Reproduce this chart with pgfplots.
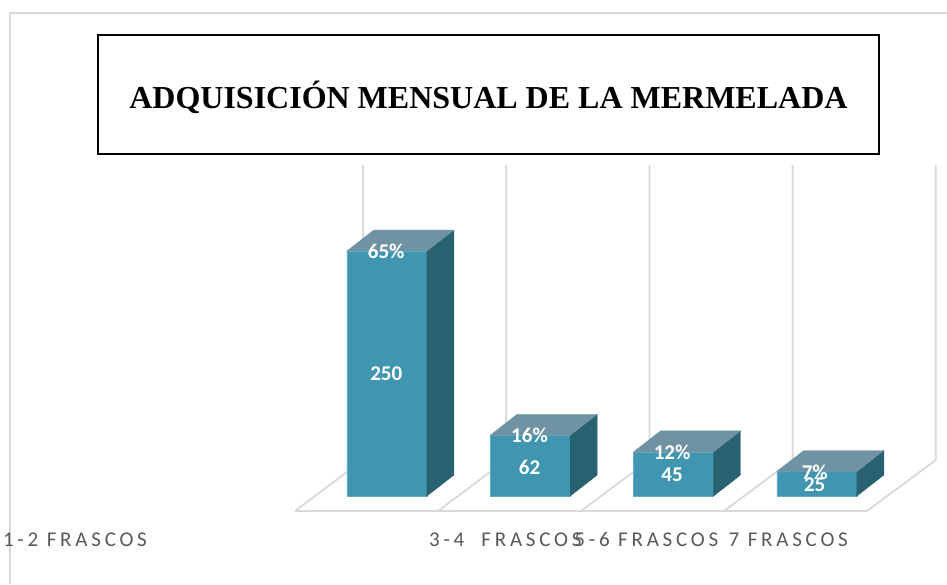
\documentclass[border=0pt]{standalone}
\usepackage{fontspec}
\usepackage{pgfplots}
\pgfplotsset{compat=1.18}
\setmainfont{Liberation Serif}
\newfontfamily\labelfont{Carlito}
\newfontfamily\tickfont[LetterSpace=18]{Carlito}
\definecolor{barFront}{HTML}{4096B1}
\definecolor{barSide}{HTML}{28616F}
\definecolor{barTop}{HTML}{6F93A2}
\definecolor{gridGray}{HTML}{D9D9D9}
\definecolor{tickGray}{HTML}{595959}

\begin{document}
\begin{tikzpicture}[x=1pt,y=1pt]
    \useasboundingbox (0,0) rectangle (947,584);
    % outer frame, only left and top show in the source
    \draw[gridGray, line width=1.8pt] (10,0) -- (10,571) -- (947,571);
    % back wall lines and floor
    \foreach \i in {0,...,4} {
        \pgfmathsetmacro{\xa}{295+143*\i}
        \pgfmathsetmacro{\xb}{363+143.2*\i}
        \draw[gridGray, line width=1.8pt] (\xa,73) -- (\xb,124) -- (\xb,419);
    }
    \draw[gridGray, line width=2pt] (295,73) -- (867,73);
    \begin{axis}[
        at={(0,0)}, anchor=south west,
        scale only axis,
        width=947pt, height=584pt,
        xmin=-2.7, xmax=3.908,
        ymin=-89.8, ymax=506.1,
        axis line style={draw=none},
        major tick length=0pt,
        ytick=\empty,
        xtick={-2.177,0.826,1.81,2.80},
        xticklabels={1-2 FRASCOS, 3-4\ \ FRASCOS, 5-6 FRASCOS, 7 FRASCOS},
        xticklabel style={anchor=center, yshift=45pt, text=tickGray,
            text height=14pt, text depth=0pt,
            font=\tickfont\fontsize{21}{24}\selectfont},
        title={ADQUISICIÓN MENSUAL DE LA MERMELADA},
        title style={at={(0.5158,0.8277)}, anchor=center, draw=black, fill=white,
            line width=1.5pt, minimum width=781pt, minimum height=119pt,
            text height=30pt, text depth=3pt,
            font=\bfseries\fontsize{32}{38}\selectfont},
        clip=false
    ]
        % front faces
        \addplot[ybar, bar width=0.558, bar shift=0pt, fill=barFront, draw=barFront!80!white, line width=0.6pt]
            coordinates {(0,250) (1,62) (2,45) (3,25)};
        % side faces
        \addplot[fill=barSide, draw=barSide] coordinates {(0.279,0) (0.279,250) (0.467,271.4) (0.467,21.4)} -- cycle;
        \addplot[fill=barSide, draw=barSide] coordinates {(1.279,0) (1.279,62) (1.467,83.4) (1.467,21.4)} -- cycle;
        \addplot[fill=barSide, draw=barSide] coordinates {(2.279,0) (2.279,45) (2.467,66.4) (2.467,21.4)} -- cycle;
        \addplot[fill=barSide, draw=barSide] coordinates {(3.279,0) (3.279,25) (3.467,46.4) (3.467,21.4)} -- cycle;
        % top faces
        \addplot[fill=barTop, draw=barTop] coordinates {(-0.279,250) (0.279,250) (0.467,271.4) (-0.091,271.4)} -- cycle;
        \addplot[fill=barTop, draw=barTop] coordinates {(0.721,62) (1.279,62) (1.467,83.4) (0.909,83.4)} -- cycle;
        \addplot[fill=barTop, draw=barTop] coordinates {(1.721,45) (2.279,45) (2.467,66.4) (1.909,66.4)} -- cycle;
        \addplot[fill=barTop, draw=barTop] coordinates {(2.721,25) (3.279,25) (3.467,46.4) (2.909,46.4)} -- cycle;
        % value labels mid bar
        \addplot[draw=none, mark=none, point meta=explicit symbolic, nodes near coords,
            every node near coord/.append style={anchor=center, text=white, inner sep=0pt,
                font=\labelfont\bfseries\fontsize{21}{24}\selectfont}]
            coordinates {(-0.005,124.5)[250] (0.995,29.6)[62] (1.99,21.4)[45] (2.985,11.2)[25]};
        % percentage labels on the top edge
        \addplot[draw=none, mark=none, point meta=explicit symbolic, nodes near coords,
            every node near coord/.append style={anchor=center, text=white, inner sep=0pt,
                font=\labelfont\bfseries\fontsize{21}{24}\selectfont}]
            coordinates {(-0.005,249.5)[65\%] (0.995,62)[16\%] (1.99,44.5)[12\%] (2.985,24.5)[7\%]};
    \end{axis}
\end{tikzpicture}
\end{document}
